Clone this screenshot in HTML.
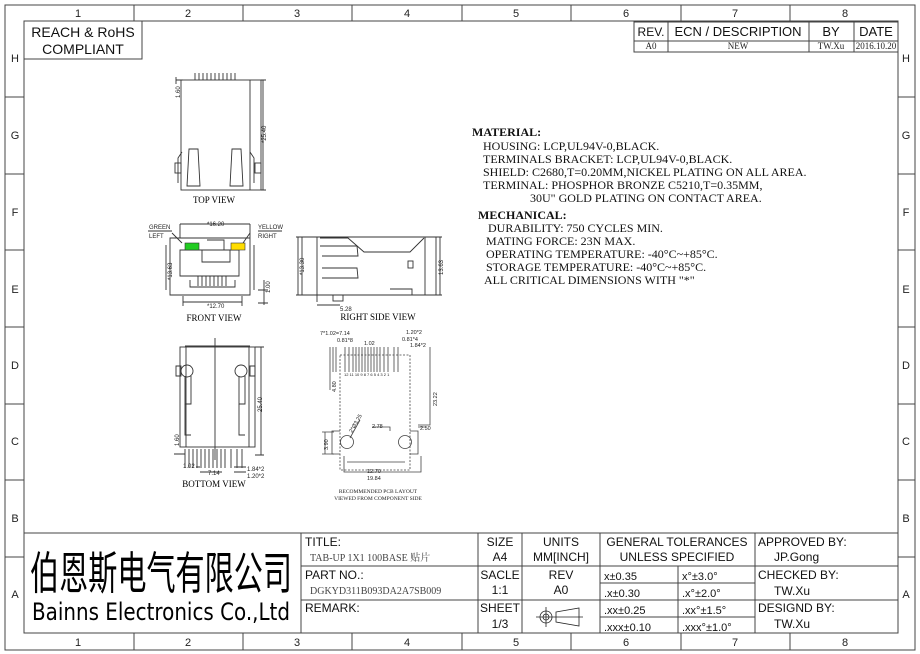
<!DOCTYPE html>
<html><head><meta charset="utf-8"><style>
html,body{margin:0;padding:0;background:#fff;}
svg{display:block;}
.s{font-family:"Liberation Sans",sans-serif;}
.t{font-family:"Liberation Serif",serif;}
</style></head><body>
<svg width="920" height="654" viewBox="0 0 920 654" xmlns="http://www.w3.org/2000/svg">
<g fill="none" stroke="#444" stroke-width="1">
<rect x="5" y="5" width="910" height="645"/>
<rect x="24" y="21" width="874" height="612"/>
<path d="M134 5V21M243 5V21M352 5V21M462 5V21M571 5V21M681 5V21M790 5V21"/>
<path d="M134 633V650M243 633V650M352 633V650M462 633V650M571 633V650M681 633V650M790 633V650"/>
<path d="M5 97H24M5 174H24M5 250H24M5 327H24M5 404H24M5 480H24M5 557H24"/>
<path d="M898 97H915M898 174H915M898 250H915M898 327H915M898 404H915M898 480H915M898 557H915"/>
<rect x="24" y="21" width="118" height="38"/>
<rect x="634" y="22" width="264" height="30"/>
<path d="M634 41H898M668 22V52M809 22V52M854 22V52"/>
<path d="M24 533H898M301 533V633M478 533V633M522 533V633M600 533V633M755 533V633M301 566H898M301 600H898M600 583H755M600 617H755M678 566V633"/>
</g>
<g class="s" font-size="11" fill="#222" text-anchor="middle">
<text x="78" y="17">1</text><text x="188" y="17">2</text><text x="297" y="17">3</text><text x="407" y="17">4</text><text x="516" y="17">5</text><text x="626" y="17">6</text><text x="735" y="17">7</text><text x="845" y="17">8</text>
<text x="78" y="646">1</text><text x="188" y="646">2</text><text x="297" y="646">3</text><text x="407" y="646">4</text><text x="516" y="646">5</text><text x="626" y="646">6</text><text x="735" y="646">7</text><text x="845" y="646">8</text>
<text x="15" y="62">H</text><text x="15" y="139">G</text><text x="15" y="216">F</text><text x="15" y="293">E</text><text x="15" y="369">D</text><text x="15" y="445">C</text><text x="15" y="522">B</text><text x="15" y="598">A</text>
<text x="906" y="62">H</text><text x="906" y="139">G</text><text x="906" y="216">F</text><text x="906" y="293">E</text><text x="906" y="369">D</text><text x="906" y="445">C</text><text x="906" y="522">B</text><text x="906" y="598">A</text>
</g>
<g class="s" font-size="14" fill="#111" text-anchor="middle">
<text x="83" y="37">REACH &amp; RoHS</text><text x="83" y="54">COMPLIANT</text>
<text x="651" y="36" font-size="12">REV.</text><text x="738" y="36" font-size="13">ECN / DESCRIPTION</text><text x="831" y="36" font-size="13">BY</text><text x="876" y="36" font-size="13">DATE</text>
</g>
<g class="t" font-size="9" fill="#222" text-anchor="middle">
<text x="651" y="49">A0</text><text x="738" y="49">NEW</text><text x="831" y="49">TW.Xu</text><text x="876" y="49">2016.10.20</text>
</g>
<text x="30" y="589" font-family="'Noto Sans CJK SC',sans-serif" font-size="45" textLength="262" lengthAdjust="spacingAndGlyphs" fill="#000">伯恩斯电气有限公司</text>
<text x="32" y="620" font-family="'DejaVu Sans','Liberation Sans',sans-serif" font-size="24" textLength="258" lengthAdjust="spacingAndGlyphs" fill="#000">Bainns Electronics Co.,Ltd</text>
<g class="s" font-size="12" fill="#111">
<text x="305" y="546">TITLE:</text><text x="305" y="579">PART NO.:</text><text x="305" y="612">REMARK:</text>
<g text-anchor="middle">
<text x="500" y="546">SIZE</text><text x="500" y="561">A4</text>
<text x="500" y="579">SACLE</text><text x="500" y="594">1:1</text>
<text x="500" y="612">SHEET</text><text x="500" y="628">1/3</text>
<text x="561" y="546">UNITS</text><text x="561" y="561">MM[INCH]</text>
<text x="561" y="579">REV</text><text x="561" y="594">A0</text>
<text x="677" y="546">GENERAL TOLERANCES</text><text x="677" y="561">UNLESS SPECIFIED</text>
</g>
<text x="758" y="546">APPROVED BY:</text><text x="774" y="561">JP.Gong</text>
<text x="758" y="579">CHECKED BY:</text><text x="774" y="595">TW.Xu</text>
<text x="758" y="612">DESIGND BY:</text><text x="774" y="628">TW.Xu</text>
<g font-size="11"><text x="604" y="580">x±0.35</text><text x="604" y="597">.x±0.30</text><text x="604" y="614">.xx±0.25</text><text x="604" y="631">.xxx±0.10</text>
<text x="682" y="580">x°±3.0°</text><text x="682" y="597">.x°±2.0°</text><text x="682" y="614">.xx°±1.5°</text><text x="682" y="631">.xxx°±1.0°</text></g>
</g>
<g class="t" font-size="10" fill="#444">
<text x="310" y="561" font-family="'Liberation Serif','Noto Serif CJK SC',serif">TAB-UP 1X1 100BASE 贴片</text>
<text x="310" y="594">DGKYD311B093DA2A7SB009</text>
</g>
<g fill="none" stroke="#222" stroke-width="0.8">
<circle cx="546" cy="617" r="6"/><circle cx="546" cy="617" r="3"/><path d="M536 617H557M546 607V627M556 612L579 608V626L556 622Z M553 617H583"/>
</g>
<g class="t" font-size="12" fill="#111">
<text x="472" y="136" font-weight="bold">MATERIAL:</text>
<text x="483" y="150">HOUSING: LCP,UL94V-0,BLACK.</text>
<text x="483" y="163">TERMINALS BRACKET: LCP,UL94V-0,BLACK.</text>
<text x="483" y="176">SHIELD: C2680,T=0.20MM,NICKEL PLATING ON ALL AREA.</text>
<text x="483" y="189">TERMINAL: PHOSPHOR BRONZE C5210,T=0.35MM,</text>
<text x="530" y="202">30U" GOLD PLATING ON CONTACT AREA.</text>
<text x="478" y="219" font-weight="bold">MECHANICAL:</text>
<text x="488" y="232">DURABILITY: 750 CYCLES MIN.</text>
<text x="486" y="245">MATING FORCE: 23N MAX.</text>
<text x="486" y="258">OPERATING TEMPERATURE: -40°C~+85°C.</text>
<text x="486" y="271">STORAGE TEMPERATURE: -40°C~+85°C.</text>
<text x="484" y="284">ALL CRITICAL DIMENSIONS WITH "*"</text>
</g>
<g fill="none" stroke="#333" stroke-width="0.9">
<rect x="181" y="80" width="80" height="110"/><path d="M250 80V190M176 77V84M176 80H183"/>
<path d="M195 73V80M199 73V80M203 73V80M207 73V80M211 73V80M215 73V80M219 73V80M223 73V80M227 73V80M231 73V80M235 73V80"/>
<path d="M189 149H198L200 186H187Z M232 149H241L243 186H230Z"/>
<rect x="175" y="163" width="6" height="10"/><rect x="255" y="163" width="6" height="10"/>
<path d="M182 152L178 158V183M250 152L254 158V183M261 80H266M261 190H266M263 80V190"/>
</g>
<g class="s" font-size="6" fill="#222"><text transform="translate(180,98) rotate(-90)">1.60</text><text transform="translate(266,143) rotate(-90)">*25.40</text></g>
<text x="214" y="203" class="t" font-size="9" text-anchor="middle">TOP VIEW</text>
<g fill="none" stroke="#333" stroke-width="0.9">
<path d="M170 238H250V295H170Z M180 224H250M180 224V238M250 224V238"/>
<path d="M180 250H239V276H180Z M202 250V262H230V250 M207 240H224V250M190 280V287H235V280"/>
<path d="M198 276V286M202 276V286M206 276V286M210 276V286M214 276V286M218 276V286M222 276V286M226 276V286"/>
<path d="M166 245V290M254 245V290M183 302H242M183 296V306M242 296V306M258 290H268M258 303H268M264 280V305"/>
<path d="M172 233L182 243M250 233L243 243 M148 231H172M258 231H282"/>
</g>
<rect x="185" y="243" width="14" height="7" fill="#22cc22" stroke="#333" stroke-width="0.6"/>
<rect x="231" y="243" width="14" height="7" fill="#ffdd00" stroke="#333" stroke-width="0.6"/>
<g class="s" font-size="6" fill="#222">
<text x="149" y="229">GREEN</text><text x="149" y="238">LEFT</text><text x="258" y="229">YELLOW</text><text x="258" y="238">RIGHT</text>
<text x="207" y="226">*16.20</text><text x="207" y="308">*12.70</text>
<text transform="translate(172,280) rotate(-90)">*13.63</text><text transform="translate(270,293) rotate(-90)">1.00</text>
</g>
<text x="214" y="321" class="t" font-size="9" text-anchor="middle">FRONT VIEW</text>
<g fill="none" stroke="#333" stroke-width="0.9">
<path d="M302 237H436V295H302Z M317 237V302M425 237V295"/>
<path d="M320 238L348 238L364 252H410L424 238 M320 246H357L358 256H322 M322 268H357L358 278H322"/>
<rect x="408" y="261" width="5" height="7"/><rect x="333" y="295" width="10" height="6"/>
<path d="M317 305H340M296 237H302M296 295H302M298 237V295M436 237H442M436 295H442M440 237V295M390 289H412V295"/>
</g>
<g class="s" font-size="6" fill="#222"><text transform="translate(304,275) rotate(-90)">*13.30</text><text transform="translate(443,275) rotate(-90)">13.63</text><text x="340" y="311">5.28</text></g>
<text x="378" y="320" class="t" font-size="9" text-anchor="middle">RIGHT SIDE VIEW</text>
<g fill="none" stroke="#333" stroke-width="0.9">
<rect x="180" y="347" width="75" height="100"/>
<path d="M186 347V447M249 347V447M185 346H250M215 338V460"/>
<circle cx="187" cy="371" r="6"/><circle cx="241" cy="371" r="6"/>
<path d="M185 376V404H191V376 M239 376V404H245V376 M176 366H181V376H176Z M250 366H255V376H250Z"/>
<path d="M185 404V435H191 M239 404V435H245 M255 347H264M255 455H264M261 347V455"/>
<path d="M185 449V468M189 449V468M193 449V468M197 449V468M201 449V468M205 449V468M209 449V468M213 449V468M217 449V468M221 449V468M225 449V468M231 449V468M237 449V468M242 449V468"/>
<path d="M174 454H185M196 467H200M200 472H222M234 467H246M234 472H246"/>
</g>
<g class="s" font-size="6" fill="#222"><text transform="translate(179,446) rotate(-90)">1.60</text><text transform="translate(262,412) rotate(-90)">25.40</text><text x="183" y="468">1.02</text><text x="208" y="475">7.14</text><text x="247" y="471">1.84*2</text><text x="247" y="478">1.20*2</text></g>
<text x="214" y="487" class="t" font-size="9" text-anchor="middle">BOTTOM VIEW</text>
<g fill="none" stroke="#444" stroke-width="0.8">
<rect x="340" y="355" width="70" height="115" stroke-dasharray="2,1.5"/>
<path d="M333 347V372M336 347V372M345 347V372M349 347V372M353 347V372M356 347V372M359 347V372M362 347V372M365 347V372M368 347V372M371 347V372M374 347V372M377 347V372M380 347V372M384 347V372M388 347V372M394 347V372M398 347V372"/>
<circle cx="347" cy="442" r="6.5"/><circle cx="405" cy="442" r="6.5"/>
<path d="M340 431H332V454H340 M410 431H418V454H410 M330 347V390 M430 347V425H418 M344 456V472H421V456 M347 462H405"/>
<path d="M322 432H334M322 454H334M325 432V454 M350 438L360 420M372 427H390V431 M418 427H425"/>
</g>
<g class="s" font-size="5.5" fill="#222">
<text x="320" y="335">7*1.02=7.14</text><text x="337" y="342">0.81*8</text><text x="364" y="345">1.02</text><text x="406" y="334">1.20*2</text><text x="402" y="341">0.81*4</text><text x="410" y="347">1.84*2</text>
<text x="344" y="376" font-size="4">12  11 10 9 8 7 6 5 4 3 2    1</text>
<text transform="translate(336,392) rotate(-90)">4.80</text><text transform="translate(437,406) rotate(-90)">23.22</text>
<text x="372" y="428">2.78</text><text x="420" y="430">2.50</text><text transform="translate(328,450) rotate(-90)">3.90</text>
<text transform="translate(352,433) rotate(-60)">2*Ø3.25</text><text x="367" y="473">12.70</text><text x="367" y="480">19.84</text>
</g>
<g class="t" font-size="5.5" fill="#222" text-anchor="middle"><text x="378" y="493">RECOMMENDED PCB LAYOUT</text><text x="378" y="500">VIEWED FROM COMPONENT SIDE</text></g>
</svg>
</body></html>
